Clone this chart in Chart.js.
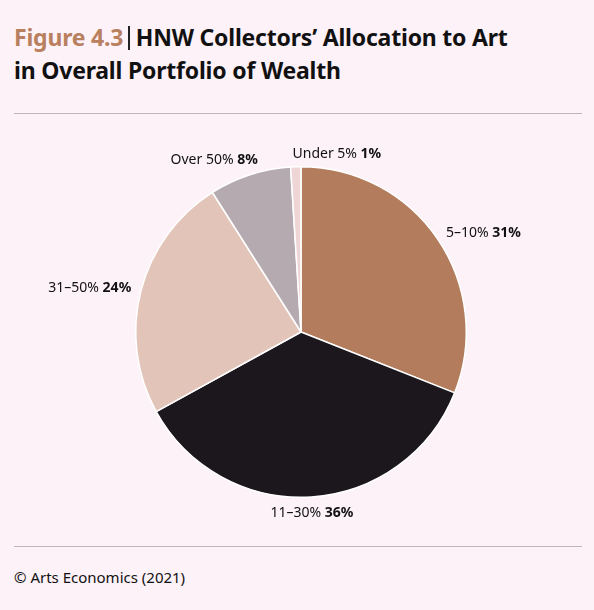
<!DOCTYPE html>
<html>
<head>
<meta charset="utf-8">
<script src="https://cdn.jsdelivr.net/npm/chart.js@4.4.1/dist/chart.umd.min.js"></script>
<style>
	html, body { margin: 0; padding: 0; background: #fdf2f8; }
	body { width: 594px; height: 610px; position: relative; overflow: hidden; font-family: "Noto Sans", sans-serif; color: #111; }
	#title { position: absolute; left: 14px; top: 21px; font-size: 23px; font-weight: 700; line-height: 33px; letter-spacing: -0.2px; }
	#title .fig { color: #b9805f; }
	#title .bar { display: inline-block; width: 1.5px; height: 24px; background: #222; margin: 0 6px 0 5px; vertical-align: -4px; }
	.rule { position: absolute; left: 14px; width: 568px; height: 1px; background: #c4b5ba; }
	#foot { position: absolute; left: 14px; top: 567px; font-size: 15px; }
	#wrap { position: absolute; left: 0; top: 122px; width: 594px; height: 420px; }
</style>
</head>
<body>
<div id="title"><span class="fig">Figure 4.3</span><span class="bar"></span>HNW Collectors’ Allocation to Art<br>in Overall Portfolio of Wealth</div>
<div class="rule" style="top:113px"></div>
<div id="wrap"><canvas id="chart"></canvas></div>
<div class="rule" style="top:546px"></div>
<div id="foot">© Arts Economics (2021)</div>
<script>
const categories = ["5–10%", "11–30%", "31–50%", "Over 50%", "Under 5%"]
const shares = [31, 36, 24, 8, 1]
const colors = ["#b37c5c", "#1b171c", "#e3c4b9", "#b5aaaf", "#efd6d6"]

// per-label nudges, the original labels were placed by hand
const labelPos = [
	{align: "left", dx: 0, dy: 0},
	{align: "center", dx: 0, dy: 6},
	{align: "right", dx: 0, dy: 0},
	{align: "right", dx: 11, dy: -5},
	{align: "left", dx: -3, dy: -3}
]

const sliceLabels = {
	id: "sliceLabels",
	afterDatasetsDraw(chart) {
		const ctx = chart.ctx
		const meta = chart.getDatasetMeta(0)
		ctx.save()
		ctx.textBaseline = "middle"
		meta.data.forEach((arc, i) => {
			const p = arc.getProps(["x", "y", "startAngle", "endAngle", "outerRadius"], true)
			const mid = (p.startAngle + p.endAngle) / 2
			const r = p.outerRadius + 10
			let x = p.x + Math.cos(mid) * r + labelPos[i].dx
			let y = p.y + Math.sin(mid) * r + labelPos[i].dy
			const a = categories[i] + " "
			const b = shares[i] + "%"
			ctx.font = "400 14px 'Noto Sans'"
			const wa = ctx.measureText(a).width
			ctx.font = "700 14px 'Noto Sans'"
			const wb = ctx.measureText(b).width
			if (labelPos[i].align == "right") x -= wa + wb
			if (labelPos[i].align == "center") x -= (wa + wb) / 2
			ctx.textAlign = "left"
			ctx.fillStyle = "#111"
			ctx.font = "400 14px 'Noto Sans'"
			ctx.fillText(a, x, y)
			ctx.font = "700 14px 'Noto Sans'"
			ctx.fillText(b, x + wa, y)
		})
		ctx.restore()
	}
}

let chart = new Chart(document.querySelector("#chart").getContext("2d"), {
	type: "pie",
	data: {
		labels: categories,
		datasets: [{
			data: shares,
			backgroundColor: colors,
			borderColor: "#ffffff",
			borderWidth: 1.5
		}]
	},
	options: {
		responsive: true,
		maintainAspectRatio: false,
		animation: false,
		layout: { padding: { top: 44, bottom: 44, left: 8, right: 0 } },
		plugins: { legend: { display: false }, tooltip: { enabled: false } }
	},
	plugins: [sliceLabels]
})
</script>
</body>
</html>
